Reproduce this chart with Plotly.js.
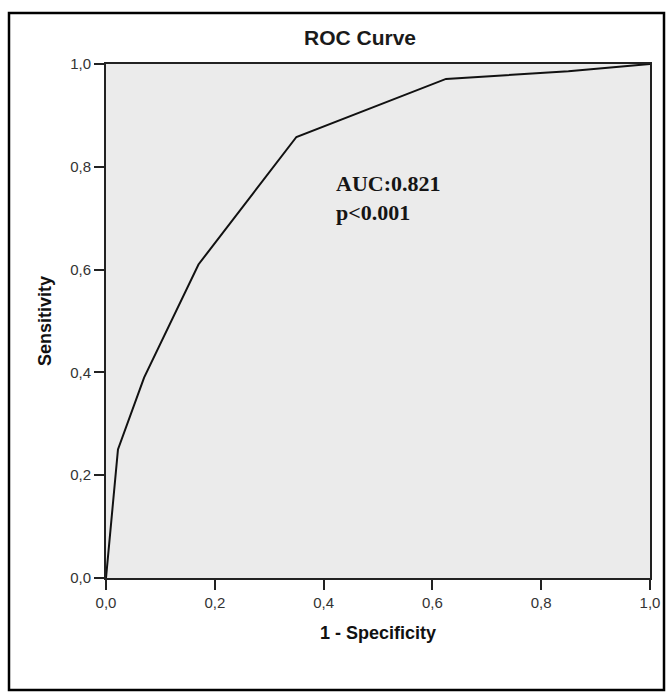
<!DOCTYPE html>
<html><head><meta charset="utf-8">
<script src="https://cdn.plot.ly/plotly-3.0.1.min.js"></script>
<style>html,body{margin:0;padding:0;background:#fff;}#chart{width:671px;height:694px;}</style>
</head><body><div id="chart"></div>
<script>
var fpr = [0, 0.022, 0.07, 0.17, 0.35, 0.625, 0.85, 1.0];
var tpr = [0, 0.25, 0.39, 0.61, 0.858, 0.971, 0.986, 1.0];
var tickVals = [0, 0.2, 0.4, 0.6, 0.8, 1.0];
var tickText = ['0,0', '0,2', '0,4', '0,6', '0,8', '1,0'];
var aucLines = ['AUC:0.821', 'p<0.001'];

var W = 671, H = 694, L = 106, R = 21, T = 64, B = 116;
var pw = W - L - R, ph = H - T - B;
function px(x){ return (x - L) / pw; }
function py(y){ return (H - B - y) / ph; }

var trace = {x: fpr, y: tpr, type: 'scatter', mode: 'lines',
  line: {color: '#111', width: 2}, hoverinfo: 'skip', cliponaxis: false};

function makeAxis(extra) {
  var a = {range: [0, 1], tickmode: 'array', tickvals: tickVals, ticktext: tickText,
    ticks: 'outside', ticklen: 10, tickwidth: 2, tickcolor: '#222',
    showline: true, linecolor: '#222', linewidth: 2, mirror: true,
    showgrid: false, zeroline: false, fixedrange: true,
    tickfont: {family: 'Arial', size: 15, color: '#333'}};
  for (var k in extra) a[k] = extra[k];
  return a;
}

var layout = {
  width: W, height: H,
  margin: {l: L, r: R, t: T, b: B},
  paper_bgcolor: '#fff', plot_bgcolor: '#ebebeb',
  showlegend: false,
  title: {text: '<b>ROC Curve</b>', x: 360 / W, xanchor: 'center',
    y: 1 - 38 / H, yanchor: 'middle',
    font: {family: 'Arial', size: 21, color: '#1a1a1a'}},
  xaxis: makeAxis({
    title: {text: '<b>1 - Specificity</b>', standoff: 16,
      font: {family: 'Arial', size: 18, color: '#111'}}}),
  yaxis: makeAxis({
    title: {text: '<b>Sensitivity</b>', standoff: 14,
      font: {family: 'Arial', size: 18, color: '#111'}}}),
  annotations: [{x: 0.42, y: 0.74, xref: 'x', yref: 'y', xanchor: 'left', yanchor: 'middle',
    align: 'left', showarrow: false,
    text: aucLines.map(function(s){ return '<b>' + s.replace('<', '&lt;') + '</b>'; }).join('<br>'),
    font: {family: 'Times New Roman', size: 22, color: '#151515'}}],
  shapes: [{type: 'rect', xref: 'paper', yref: 'paper',
    x0: px(9), x1: px(664), y0: py(690), y1: py(13),
    line: {color: '#000', width: 2.5}, fillcolor: 'rgba(0,0,0,0)', layer: 'below'}]
};

Plotly.newPlot('chart', [trace], layout, {displayModeBar: false, staticPlot: true});
</script></body></html>
